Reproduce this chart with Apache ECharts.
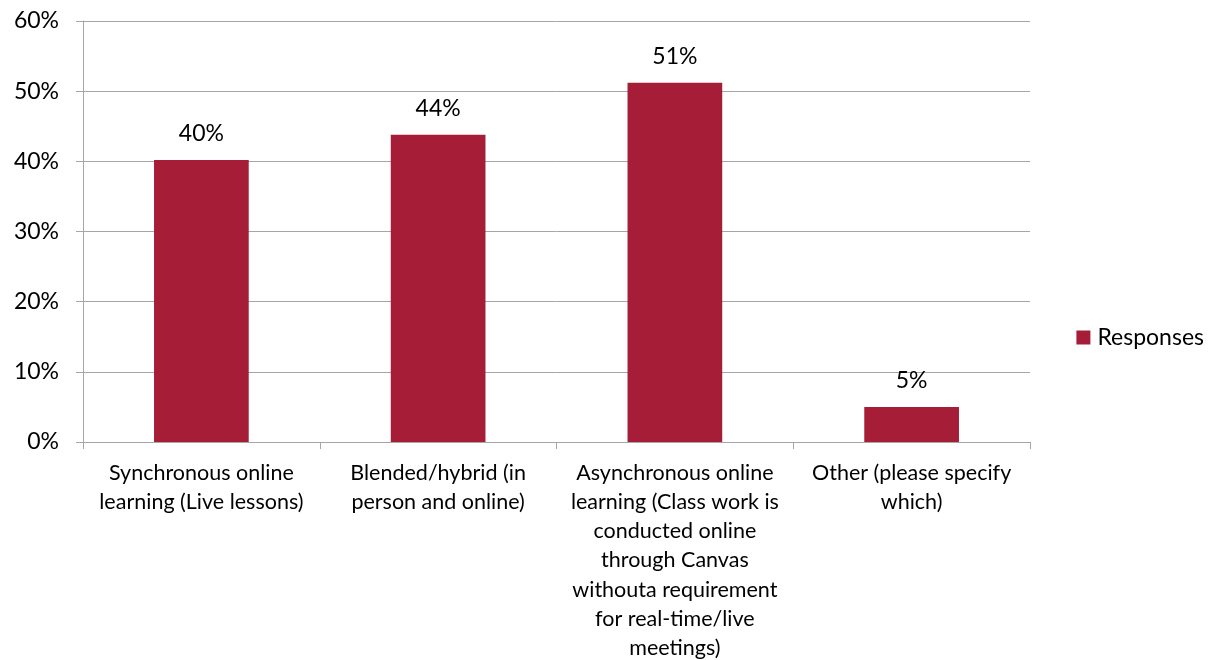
<!DOCTYPE html>
<html>
<head>
<meta charset="utf-8">
<script src="https://cdn.jsdelivr.net/npm/echarts@6/dist/echarts.min.js"></script>
<style>
  html, body { margin: 0; padding: 0; background: #fff; }
  #chart { width: 1210px; height: 660px; }
</style>
</head>
<body>
<div id="chart"></div>
<script>
// Category labels (line breaks as shown under each bar)
const categories = [
  'Synchronous online\nlearning (Live lessons)',
  'Blended/hybrid (in\nperson and online)',
  'Asynchronous online\nlearning (Class work is\nconducted online\nthrough Canvas\nwithouta requirement\nfor real-time/live\nmeetings)',
  'Other (please specify\nwhich)'
];
// Share of responses, percent
const responses = [40.2, 43.8, 51.2, 5.0];
const seriesName = 'Responses';
const yTicks = [0, 10, 20, 30, 40, 50, 60];

const FONT = 'Lato, "Open Sans", sans-serif';
const BAR = '#A51D37';
const GRID = '#A6A6A6';

const chart = echarts.init(document.getElementById('chart'), null, { renderer: 'canvas' });
chart.setOption({
  animation: false,
  backgroundColor: '#fff',
  textStyle: { fontFamily: FONT },
  grid: { left: 83, right: 180, top: 21, bottom: 218, containLabel: false, outerBoundsMode: 'none' },
  legend: {
    data: [seriesName],
    right: 1,
    top: 321,
    orient: 'vertical',
    icon: 'rect',
    itemWidth: 14,
    itemHeight: 14,
    textStyle: { fontFamily: FONT, fontSize: 23, color: '#000', padding: [0, 0, 0, 2] }
  },
  xAxis: {
    type: 'category',
    data: categories,
    axisLine: { show: true, lineStyle: { color: GRID, width: 1 } },
    axisTick: { show: true, alignWithLabel: false, length: 7, lineStyle: { color: GRID } },
    axisLabel: {
      interval: 0,
      margin: 16,
      fontFamily: FONT,
      fontSize: 21.5,
      lineHeight: 29.3,
      color: '#000',
      align: 'center'
    }
  },
  yAxis: {
    type: 'value',
    min: yTicks[0],
    max: yTicks[yTicks.length - 1],
    interval: 10,
    axisLine: { show: true, lineStyle: { color: GRID, width: 1 } },
    axisTick: { show: true, length: 7, lineStyle: { color: GRID } },
    splitLine: { show: true, lineStyle: { color: GRID, width: 1 } },
    axisLabel: {
      margin: 24,
      fontFamily: FONT,
      fontSize: 23,
      color: '#000',
      formatter: v => v + '%'
    }
  },
  series: [{
    name: seriesName,
    type: 'bar',
    data: responses,
    barWidth: '40%',
    itemStyle: { color: BAR },
    label: {
      show: true,
      position: 'top',
      distance: 15,
      fontFamily: FONT,
      fontSize: 23,
      color: '#000',
      formatter: p => Math.round(p.value) + '%'
    }
  }]
});
</script>
</body>
</html>
